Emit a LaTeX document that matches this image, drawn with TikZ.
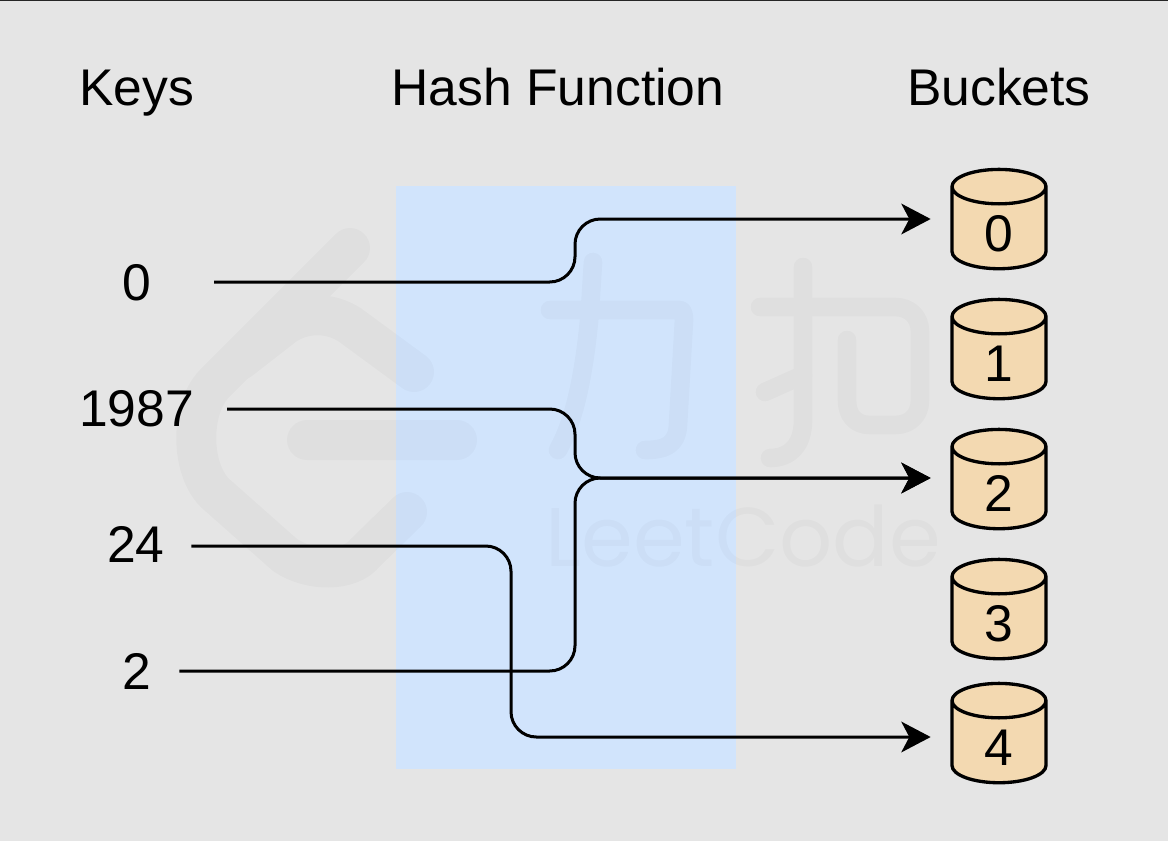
\documentclass[tikz,border=0pt]{standalone}
\usepackage{fontspec}
\setmainfont{Liberation Sans}
\newfontfamily\markfont{Poppins}
\usetikzlibrary{arrows.meta, positioning, shapes.geometric}
\tikzset{every picture/.style={line width=0.75pt}}
\newcommand{\bucketnum}[1]{\raisebox{-3.9pt}[\height][0pt]{#1}}

\begin{document}
\begin{tikzpicture}[x=0.75pt,y=-0.75pt,node distance=97.5pt,
    every node/.style={inner sep=0pt,outer sep=0pt,font=\fontsize{38.7}{46}\selectfont},
    bucket/.style={cylinder,shape border rotate=90,aspect=1.2,draw,line width=2.5pt,
        fill=bucketfill,minimum width=70.5pt,minimum height=74.5pt},
    link/.style={draw,line width=2.25pt,rounded corners=19pt,-{Stealth[length=22pt,width=23pt,inset=6pt]},shorten >=16pt},
    wmark/.style={draw=black,line cap=round,line join=round}]
    \definecolor{pagefill}{HTML}{E5E5E5}
    \definecolor{hashfill}{HTML}{D1E4FC}
    \definecolor{bucketfill}{HTML}{F3D9B1}
    \useasboundingbox (0,0) rectangle (1168,840);
    \fill[pagefill] (-3,-3) rectangle (1171,843);
    \draw[line width=0.9pt,black!85] (0,0.5) -- (1168,0.5);

    \node[fill=hashfill,minimum width=255pt,minimum height=437.25pt] (hash) at (566,477.5) {};

    % watermark
    \begin{scope}[transparency group,opacity=0.025]
        \draw[wmark,line width=30pt] (350,248) -- (215,383) .. controls (190,408) and (190,468) .. (215,493)
            -- (285,555) .. controls (310,572) and (350,572) .. (365,553) -- (407,512);
        \draw[wmark,line width=30pt] (240,360) -- (285,325) .. controls (305,312) and (330,312) .. (350,325) -- (414,372);
        \draw[wmark,line width=30pt] (307,440) -- (457,440);
        \draw[wmark,line width=14pt] (593,262) -- (590,310) .. controls (585,370) and (575,420) .. (558,450);
        \draw[wmark,line width=14pt] (550,310) -- (680,310) .. controls (683,310) and (684,315) .. (684,320)
            -- (678,425) .. controls (677,445) and (665,450) .. (645,450);
        \draw[wmark,line width=14pt] (803,267) -- (803,420) .. controls (803,445) and (790,458) .. (770,458);
        \draw[wmark,line width=14pt] (760,307) -- (895,307) .. controls (910,307) and (920,317) .. (920,332)
            -- (920,400) .. controls (920,415) and (910,425) .. (895,425) -- (870,425)
            .. controls (855,425) and (847,415) .. (847,400) -- (847,340);
        \draw[wmark,line width=14pt] (765,392) -- (803,375);
        \node[font=\markfont\fontsize{62.5}{70}\selectfont] (markname) at (743,536) {LeetCode};
    \end{scope}

    \node[anchor=base] (keys) at (136.5,105) {Keys};
    \node[anchor=base] (func) at (558,105) {Hash Function};
    \node[anchor=base] (buckets) at (999,105) {Buckets};

    \node (k0) at (137,283) {0};
    \node (k1) at (136.5,409) {1987};
    \node (k2) at (136,544) {24};
    \node (k3) at (137,671) {2};

    \node[bucket] (b0) at (999,228.5) {\bucketnum{0}};
    \node[bucket,below of=b0] (b1) {\bucketnum{1}};
    \node[bucket,below of=b1] (b2) {\bucketnum{2}};
    \node[bucket,below of=b2] (b3) {\bucketnum{3}};
    \node[bucket,below of=b3,node distance=93pt] (b4) {\bucketnum{4}};

    \coordinate (c0) at (575,282);
    \coordinate (d0) at (575,219);
    \coordinate (c1) at (575,409);
    \coordinate (d1) at (575,478);
    \coordinate (c2) at (511,546);
    \coordinate (d2) at (511,737);
    \coordinate (c3) at (575,671);

    \draw[link,shorten <=47pt] (k0.east |- c0) -- (c0) -- (d0) -- (b0.west |- d0);
    \draw[link,shorten <=25pt] (k1.east |- c1) -- (c1) -- (d1) -- (b2.west |- d1);
    \draw[link,shorten <=20pt] (k2.east |- c2) -- (c2) -- (d2) -- (b4.west |- d2);
    \draw[link,shorten <=21pt] (k3.east |- c3) -- (c3) -- (d1) -- (b2.west |- d1);
\end{tikzpicture}
\end{document}
